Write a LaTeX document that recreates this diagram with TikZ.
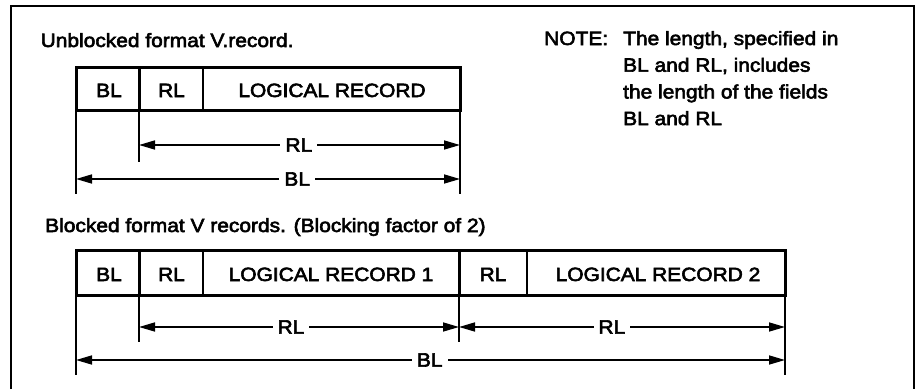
\documentclass[tikz,border=0pt]{standalone}
\usepackage{fontspec}
\setmainfont{Liberation Sans}[FakeStretch=1.09,FakeBold=3]
\usetikzlibrary{arrows.meta}
\begin{document}
\begin{tikzpicture}[x=1pt,y=-1pt,
  txt/.style={font=\fontsize{19.2}{22}\selectfont, inner sep=0pt},
  fieldtxt/.style={txt, anchor=base},
  heavy/.style={line width=3pt},
  light/.style={line width=1.5pt},
  extline/.style={line width=2pt},
  dimline/.style={line width=1.6pt,
    {Triangle[length=16pt,width=9pt]}-{Triangle[length=16pt,width=9pt]}},
  dimlabel/.style={txt, fill=white, inner xsep=5pt, inner ysep=1pt}]
\useasboundingbox (0,0) rectangle (919,389);

% open frame around both layouts
\draw[line width=2pt] (11,389) -- (11,6) -- (914,6) -- (914,389);

% ---------- unblocked record ----------
\node[txt, anchor=base west] (title1) at (40.5,47) {Unblocked format V.record.};

\coordinate (u0t) at (76,67);  \coordinate (u0b) at (76,110);
\coordinate (u1t) at (139,67); \coordinate (u1b) at (139,110);
\coordinate (u2t) at (203,67); \coordinate (u2b) at (203,110);
\coordinate (u3t) at (460,67); \coordinate (u3b) at (460,110);

\draw[heavy] (u0t) rectangle (u3b);
\draw[heavy] (u1t) -- (u1b);
\draw[light] (u2t) -- (u2b);

\node[fieldtxt] (ubl) at (109,97) {BL};
\node[fieldtxt] (url) at (171.5,97) {RL};
\node[fieldtxt] (ulr) at (332,97) {LOGICAL RECORD};

% extension lines
\coordinate (u0e) at (76,194);
\coordinate (u1e) at (139,162);
\coordinate (u3e) at (460,194);
\draw[extline] (u0b) -- (u0e);
\draw[extline] (u1b) -- (u1e);
\draw[extline] (u3b) -- (u3e);

% dimension arrows
\coordinate (urlL) at (139,145); \coordinate (urlR) at (460,145);
\coordinate (ublL) at (76,179);  \coordinate (ublR) at (460,179);
\draw[dimline] (urlL) -- (urlR) node[dimlabel, pos=0.498] (urldim) {RL};
\draw[dimline] (ublL) -- (ublR) node[dimlabel, pos=0.576] (ubldim) {BL};

% note
\node[txt, anchor=base west] (note) at (544,45) {NOTE:};
\node[txt, anchor=base west] (n1) at (623,45) {The length, specified in};
\node[txt, anchor=base west] (n2) at (623,71.7) {BL and RL, includes};
\node[txt, anchor=base west] (n3) at (623,98.4) {the length of the fields};
\node[txt, anchor=base west] (n4) at (623,125.1) {BL and RL};

% ---------- blocked records ----------
\node[txt, anchor=base west] (title2) at (45,232) {Blocked format V records. (Blocking factor of 2)};

\coordinate (b0t) at (76,250);  \coordinate (b0b) at (76,295);
\coordinate (b1t) at (139,250); \coordinate (b1b) at (139,295);
\coordinate (b2t) at (203,250); \coordinate (b2b) at (203,295);
\coordinate (b3t) at (459,250); \coordinate (b3b) at (459,295);
\coordinate (b4t) at (527,250); \coordinate (b4b) at (527,295);
\coordinate (b5t) at (785,250); \coordinate (b5b) at (785,295);

\draw[heavy] (b0t) rectangle (b5b);
\draw[heavy] (b1t) -- (b1b);
\draw[light] (b2t) -- (b2b);
\draw[heavy] (b3t) -- (b3b);
\draw[light] (b4t) -- (b4b);

\node[fieldtxt] (bbl) at (109,281) {BL};
\node[fieldtxt] (brl1) at (171.5,281) {RL};
\node[fieldtxt] (blr1) at (331,281) {LOGICAL RECORD 1};
\node[fieldtxt] (brl2) at (493,281) {RL};
\node[fieldtxt] (blr2) at (658,281) {LOGICAL RECORD 2};

% extension lines
\coordinate (b0e) at (76,375);
\coordinate (b1e) at (139,342);
\coordinate (b3e) at (459,342);
\coordinate (b5e) at (785,375);
\draw[extline] (b0b) -- (b0e);
\draw[extline] (b1b) -- (b1e);
\draw[extline] (b3b) -- (b3e);
\draw[extline] (b5b) -- (b5e);

% dimension arrows
\coordinate (brl1L) at (139,327); \coordinate (brl1R) at (459,327);
\coordinate (brl2L) at (459,327); \coordinate (brl2R) at (785,327);
\coordinate (bblL) at (76,360);   \coordinate (bblR) at (785,360);
\draw[dimline] (brl1L) -- (brl1R) node[dimlabel, pos=0.475] (brl1dim) {RL};
\draw[dimline] (brl2L) -- (brl2R) node[dimlabel, pos=0.469] (brl2dim) {RL};
\draw[dimline] (bblL) -- (bblR) node[dimlabel, pos=0.499] (bbldim) {BL};
\end{tikzpicture}
\end{document}
